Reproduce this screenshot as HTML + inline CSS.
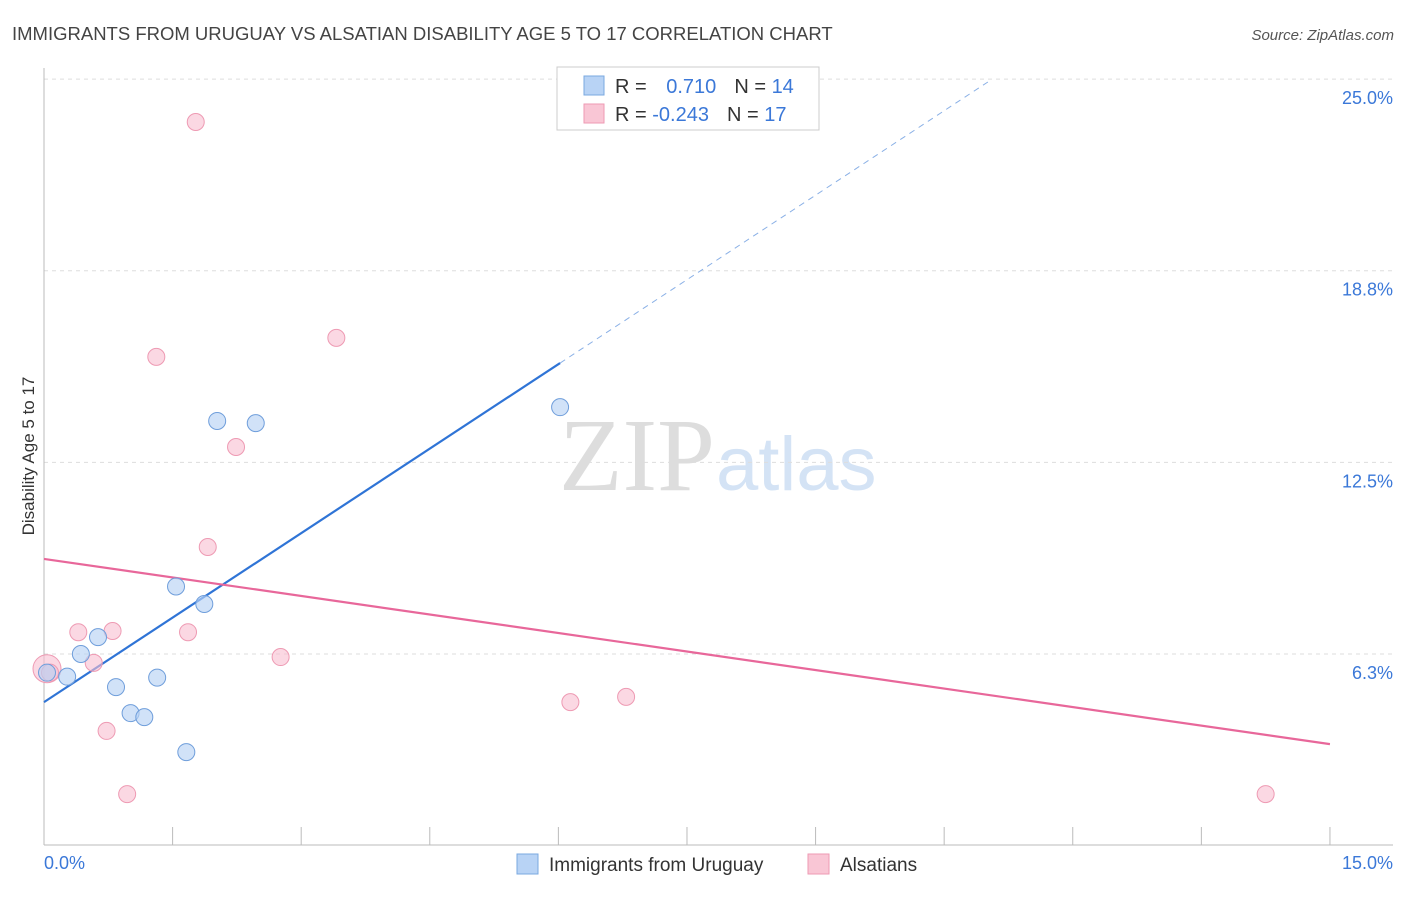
<!DOCTYPE html>
<html><head><meta charset="utf-8"><style>
body{margin:0;background:#fff;font-family:"Liberation Sans",sans-serif;}
</style></head><body>
<svg width="1406" height="892" xmlns="http://www.w3.org/2000/svg" id="chart" font-family="Liberation Sans, sans-serif">
<text x="12" y="40" font-size="18.5" fill="#444">IMMIGRANTS FROM URUGUAY VS ALSATIAN DISABILITY AGE 5 TO 17 CORRELATION CHART</text>
<text x="1394" y="40" font-size="15" fill="#555" font-style="italic" text-anchor="end">Source: ZipAtlas.com</text>
<text x="715" y="490" font-size="104" fill="#ddd" text-anchor="end" font-family="Liberation Serif, serif">ZIP</text>
<text x="716" y="490" font-size="76" fill="#d4e3f5">atlas</text>
<g id="grid"></g>
<line x1="44" y1="845" x2="1393" y2="845" stroke="#bbb"/>
<line x1="44" y1="68" x2="44" y2="845" stroke="#bbb"/>
<text transform="translate(34,456) rotate(-90)" font-size="17" fill="#333" text-anchor="middle">Disability Age 5 to 17</text>
<text x="44" y="869" font-size="18" fill="#3b78d8">0.0%</text>
<text x="1393" y="869" font-size="18" fill="#3b78d8" text-anchor="end">15.0%</text>
<g id="marks"></g>
<g>
<rect x="557" y="67" width="262" height="63" fill="#fff" stroke="#ccc"/>
<rect x="584" y="76" width="20" height="19" fill="#b8d3f5" stroke="#7aa8e0"/>
<rect x="584" y="104" width="20" height="19" fill="#f9c6d5" stroke="#ee9ab3"/>
<text x="615" y="93" font-size="20" fill="#333">R = <tspan fill="#3b78d8" dx="14">0.710</tspan><tspan dx="18" fill="#333">N = </tspan><tspan fill="#3b78d8">14</tspan></text>
<text x="615" y="121" font-size="20" fill="#333">R = <tspan fill="#3b78d8">-0.243</tspan><tspan dx="18" fill="#333">N = </tspan><tspan fill="#3b78d8">17</tspan></text>
</g>
<g>
<rect x="517" y="854" width="21" height="20" fill="#b8d3f5" stroke="#7aa8e0"/>
<text x="549" y="871" font-size="19" fill="#333">Immigrants from Uruguay</text>
<rect x="808" y="854" width="21" height="20" fill="#f9c6d5" stroke="#ee9ab3"/>
<text x="840" y="871" font-size="19" fill="#333">Alsatians</text>
</g>
</svg>
<script>
const yTicks=[6.25,12.5,18.75,25];
const yTickLabels=["6.3%","12.5%","18.8%","25.0%"];
const xTicks=[0,1.5,3,4.5,6,7.5,9,10.5,12,13.5,15];
const blueX=[0.035,0.27,0.43,0.63,0.84,1.01,1.17,1.32,1.54,1.66,1.87,2.02,2.47,6.02];
const blueY=[5.64,5.51,6.25,6.80,5.17,4.32,4.19,5.48,8.45,3.05,7.88,13.85,13.78,14.30];
const pinkX=[0.035,0.07,0.40,0.58,0.73,0.80,0.97,1.31,1.68,1.77,1.91,2.24,2.76,3.41,6.14,6.79,14.25];
const pinkY=[5.77,5.64,6.96,5.96,3.74,7.00,1.68,15.94,6.96,23.60,9.74,13.0,6.15,16.56,4.68,4.85,1.68];
const blueLine=[4.68,1.837]; // intercept, slope
const pinkLine=[9.35,-0.4027];
const sx=v=>44+v*85.73, sy=v=>845.6-v*30.66;
const NS="http://www.w3.org/2000/svg";
const g=document.getElementById('grid'), m=document.getElementById('marks');
function mk(p,t,a){const e=document.createElementNS(NS,t);for(const k in a)e.setAttribute(k,a[k]);p.appendChild(e);return e;}
yTicks.forEach((v,i)=>{
 const l=mk(g,'line',{x1:44,x2:1393,y1:sy(v),y2:sy(v),stroke:'#ddd','stroke-dasharray':'4,4'});
 
 
 const t=mk(g,'text',{x:1393,y:sy(v)+25,'font-size':18,fill:'#3b78d8','text-anchor':'end'});
 t.textContent=yTickLabels[i];
 
 
});
xTicks.forEach(v=>{
 const l=mk(g,'line',{x1:sx(v),x2:sx(v),y1:827,y2:845,stroke:'#bbb'});
 
 
});
const bl=mk(m,'line',{x1:sx(0),y1:sy(blueLine[0]),x2:sx(6.02),y2:sy(blueLine[0]+blueLine[1]*6.02),stroke:'#2f74d6','stroke-width':2.2});


const bd=mk(m,'line',{x1:sx(6.02),y1:sy(blueLine[0]+blueLine[1]*6.02),x2:sx(11.01),y2:sy(blueLine[0]+blueLine[1]*11.01),stroke:'#8ab0e6','stroke-width':1,'stroke-dasharray':'6,5'});


const pl=mk(m,'line',{x1:sx(0),y1:sy(pinkLine[0]),x2:sx(15),y2:sy(pinkLine[0]+pinkLine[1]*15),stroke:'#e8679a','stroke-width':2.2});


pinkX.forEach((x,i)=>{
 const c=mk(m,'circle',{cx:sx(x),cy:sy(pinkY[i]),r:i==0?14:8.5,fill:'rgba(249,190,208,0.6)',stroke:'#ee9ab3','stroke-width':1});
 
 
});
blueX.forEach((x,i)=>{
 const c=mk(m,'circle',{cx:sx(x),cy:sy(blueY[i]),r:8.5,fill:'rgba(184,211,245,0.65)',stroke:'#6f9edb','stroke-width':1});
 
 
});
</script>
</body></html>
